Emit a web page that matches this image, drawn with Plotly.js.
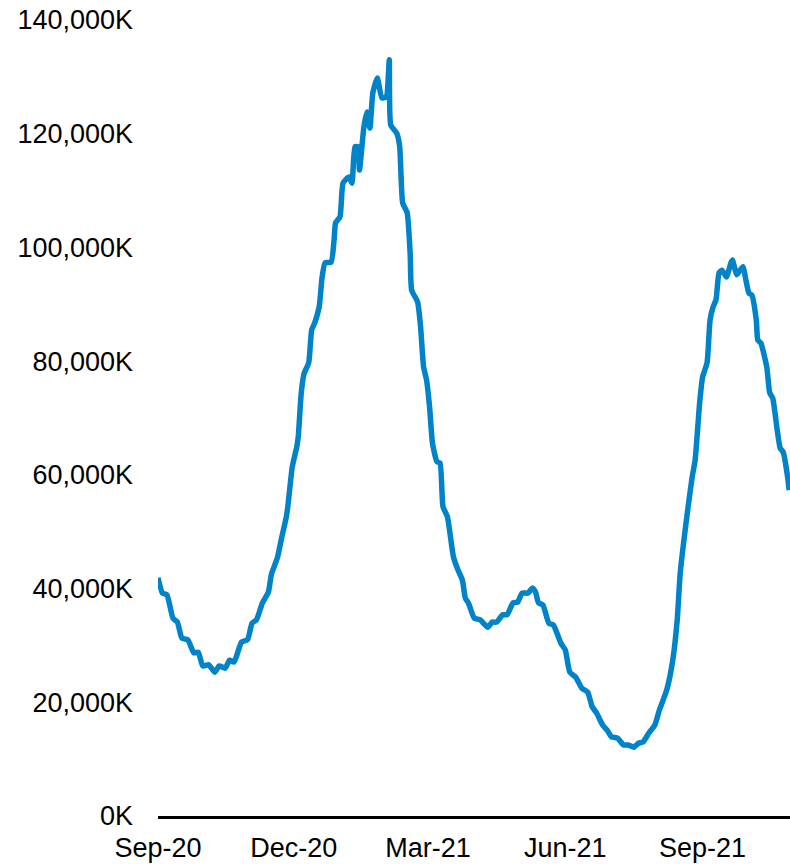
<!DOCTYPE html>
<html>
<head>
<meta charset="utf-8">
<script src="https://cdn.plot.ly/plotly-3.0.1.min.js"></script>
<style>html,body{margin:0;padding:0;background:#fff;}#chart{width:790px;height:864px;}</style>
</head>
<body>
<div id="chart"></div>
<script>
const dates = ["2020-09-01","2020-09-04","2020-09-07","2020-09-11","2020-09-14","2020-09-17","2020-09-21","2020-09-25","2020-09-28","2020-10-01","2020-10-05","2020-10-09","2020-10-12","2020-10-16","2020-10-19","2020-10-22","2020-10-27","2020-10-31","2020-11-03","2020-11-06","2020-11-10","2020-11-14","2020-11-16","2020-11-20","2020-11-23","2020-11-26","2020-11-27","2020-11-30","2020-12-03","2020-12-04","2020-12-06","2020-12-08","2020-12-11","2020-12-13","2020-12-15","2020-12-18","2020-12-20","2020-12-22","2020-12-26","2020-12-28","2020-12-29","2021-01-01","2021-01-03","2021-01-07","2021-01-09","2021-01-11","2021-01-13","2021-01-14","2021-01-17","2021-01-19","2021-01-21","2021-01-23","2021-01-26","2021-01-29","2021-02-01","2021-02-03","2021-02-04","2021-02-08","2021-02-10","2021-02-12","2021-02-15","2021-02-17","2021-02-18","2021-02-22","2021-02-24","2021-02-26","2021-02-28","2021-03-02","2021-03-04","2021-03-07","2021-03-09","2021-03-11","2021-03-14","2021-03-18","2021-03-21","2021-03-24","2021-03-26","2021-03-28","2021-04-01","2021-04-05","2021-04-10","2021-04-13","2021-04-16","2021-04-20","2021-04-23","2021-04-27","2021-04-30","2021-05-03","2021-05-07","2021-05-10","2021-05-12","2021-05-14","2021-05-17","2021-05-21","2021-05-24","2021-05-29","2021-06-01","2021-06-04","2021-06-08","2021-06-12","2021-06-16","2021-06-19","2021-06-22","2021-06-26","2021-06-29","2021-07-02","2021-07-06","2021-07-10","2021-07-13","2021-07-17","2021-07-20","2021-07-23","2021-07-27","2021-07-31","2021-08-03","2021-08-08","2021-08-12","2021-08-15","2021-08-17","2021-08-22","2021-08-25","2021-08-27","2021-08-30","2021-09-01","2021-09-04","2021-09-06","2021-09-08","2021-09-10","2021-09-12","2021-09-14","2021-09-17","2021-09-20","2021-09-21","2021-09-24","2021-09-28","2021-09-30","2021-10-02","2021-10-04","2021-10-07","2021-10-08","2021-10-10","2021-10-14","2021-10-16","2021-10-18","2021-10-21","2021-10-23","2021-10-25","2021-10-28","2021-10-29"];

const valuesK = [41900,39200,38900,34800,34100,31300,31000,28700,28800,26400,26600,25300,26400,26000,27400,27100,30600,31000,33900,34500,37500,39400,42500,45400,49100,52600,54400,61400,64900,66700,74400,77900,79700,85500,86700,89500,94800,97300,97400,101300,104300,105400,111300,112400,111300,117700,117700,113600,121200,123800,121000,127200,129800,126300,126500,133000,121500,120100,117700,107800,106100,99000,92500,90400,86000,79000,76700,72000,65500,62300,62100,54400,52600,45600,43300,41500,38300,37500,34800,34500,33200,34100,34100,35400,35400,37500,37600,39200,39200,40100,39400,37500,37100,33900,33600,30400,29200,25300,24400,22500,21800,19200,18100,16000,15100,13900,13700,12500,12500,12100,12800,13000,14600,16000,18600,22200,27400,34500,42700,53800,59600,62600,72600,77200,79700,87200,89500,90800,95500,96000,94800,97300,97800,95200,96600,94300,92000,91600,87200,83700,83200,79000,74400,73500,67900,64700,64000,59600,57300];

const xTickVals = ["2020-09-01","2020-12-01","2021-03-01","2021-06-01","2021-09-01"];
const xTickText = ["Sep-20","Dec-20","Mar-21","Jun-21","Sep-21"];
const yTickVals = [0,20000,40000,60000,80000,100000,120000,140000];
const yTickText = ["0K","20,000K","40,000K","60,000K","80,000K","100,000K","120,000K","140,000K"];

const trace = {
  x: dates, y: valuesK, type: 'scatter', mode: 'lines',
  line: {color: '#0083C8', width: 5.5, shape: 'spline', smoothing: 0.5},
  hoverinfo: 'skip'
};

const font = {family: '"Liberation Sans", Arial, sans-serif', size: 27, color: '#000'};

const layout = {
  width: 790, height: 864,
  margin: {l: 158, r: 0, t: 20, b: 48, pad: 0},
  paper_bgcolor: '#fff', plot_bgcolor: '#fff',
  showlegend: false,
  font: font,
  xaxis: {
    type: 'date',
    range: ['2020-09-01', '2021-10-29 14:00'],
    tickmode: 'array', tickvals: xTickVals, ticktext: xTickText,
    showgrid: false, zeroline: false,
    showline: true, linecolor: '#000', linewidth: 3,
    ticks: '', ticklabelstandoff: 6,
    tickfont: font, fixedrange: true
  },
  yaxis: {
    range: [0, 140000],
    tickmode: 'array', tickvals: yTickVals, ticktext: yTickText,
    showgrid: false, zeroline: false, showline: false,
    ticks: '', ticklabelstandoff: 24,
    tickfont: font, fixedrange: true
  }
};

Plotly.newPlot('chart', [trace], layout, {displayModeBar: false, staticPlot: true});
</script>
</body>
</html>
